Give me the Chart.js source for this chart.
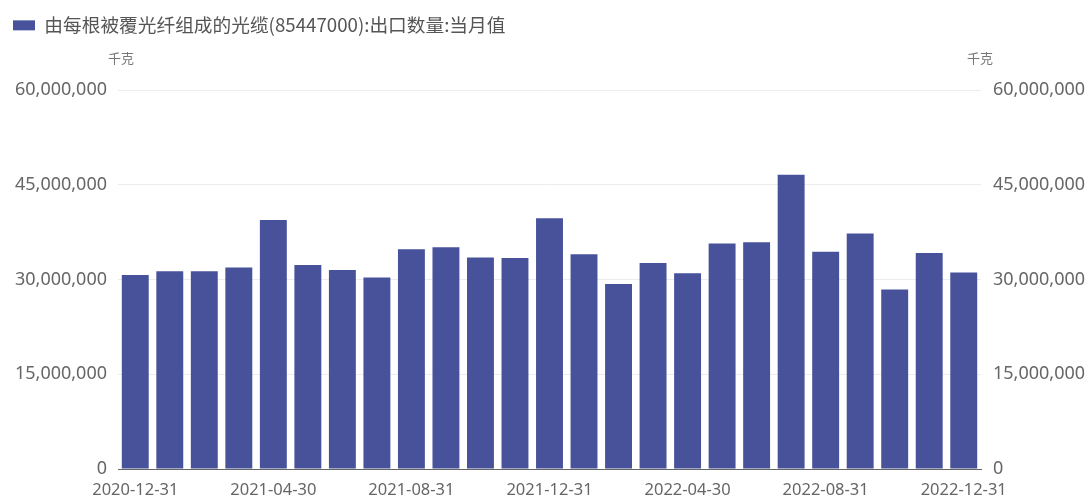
<!DOCTYPE html>
<html>
<head>
<meta charset="utf-8">
<script src="https://cdn.jsdelivr.net/npm/chart.js@4/dist/chart.umd.min.js"></script>
<style>
  html, body { margin: 0; padding: 0; background: #fff; }
  #wrap { width: 1090px; height: 501px; position: relative; }
</style>
</head>
<body>
<div id="wrap"><canvas id="c"></canvas></div>
<script>
const categories = [
  '2020-12-31','2021-01-31','2021-02-28','2021-03-31','2021-04-30','2021-05-31',
  '2021-06-30','2021-07-31','2021-08-31','2021-09-30','2021-10-31','2021-11-30',
  '2021-12-31','2022-01-31','2022-02-28','2022-03-31','2022-04-30','2022-05-31',
  '2022-06-30','2022-07-31','2022-08-31','2022-09-30','2022-10-31','2022-11-30',
  '2022-12-31'
];
const exportQty = [
  30700000, 31300000, 31300000, 31900000, 39400000, 32300000,
  31500000, 30300000, 34800000, 35100000, 33500000, 33400000,
  39700000, 34000000, 29300000, 32600000, 31000000, 35700000,
  35900000, 46600000, 34400000, 37300000, 28400000, 34200000,
  31100000
];
const seriesName = '由每根被覆光纤组成的光缆(85447000):出口数量:当月值';
const unitLabel = '千克';
const yTicks = [0, 15000000, 30000000, 45000000, 60000000];

const fmt = v => Number(v).toLocaleString('en-US');

const unitPlugin = {
  id: 'units',
  beforeInit(chart) {
    const lg = chart.legend;
    if (lg) {
      const orig = lg.fit;
      lg.fit = function() { orig.call(this); this.height = 84; };
    }
  },
  afterDraw(chart) {
    const ctx = chart.ctx;
    ctx.save();
    ctx.font = '13px "Noto Sans CJK SC"';
    ctx.fillStyle = '#777';
    ctx.textAlign = 'center';
    ctx.textBaseline = 'middle';
    ctx.fillText(unitLabel, 121, 58);
    ctx.fillText(unitLabel, 980, 58);
    ctx.restore();
  }
};

const yFont = { family: '"Noto Sans", "Open Sans", sans-serif', size: 18 };
const xFont = { family: '"Noto Sans", "Open Sans", sans-serif', size: 16.5 };

new Chart(document.getElementById('c'), {
  type: 'bar',
  data: {
    labels: categories,
    datasets: [{
      label: seriesName,
      data: exportQty,
      backgroundColor: '#48529b',
      borderWidth: 0,
      categoryPercentage: 1.0,
      barPercentage: 0.78,
      yAxisID: 'y'
    }]
  },
  options: {
    responsive: true,
    maintainAspectRatio: false,
    animation: false,
    layout: { padding: { left: 3, right: 0, top: 6, bottom: 0 } },
    plugins: {
      legend: {
        display: true,
        position: 'top',
        align: 'start',
        labels: {
          boxWidth: 22,
          boxHeight: 10,
          padding: 10,
          color: '#555',
          font: { family: '"Noto Sans CJK SC", sans-serif', size: 18.7 }
        }
      },
      tooltip: { enabled: false }
    },
    scales: {
      x: {
        afterFit: s => { s.height = 32; },
        grid: { display: false, drawTicks: false },
        border: { display: true, color: '#666', width: 1 },
        ticks: {
          autoSkip: false,
          maxRotation: 0,
          minRotation: 0,
          padding: 11,
          color: '#666',
          font: xFont,
          callback: function(val, idx) { return idx % 4 === 0 ? categories[idx] : ''; }
        }
      },
      y: {
        position: 'left',
        min: 0, max: 60000000,
        afterBuildTicks: s => { s.ticks = yTicks.map(v => ({ value: v })); },
        afterFit: s => { s.width = 115; },
        grid: { color: '#ececec', drawTicks: false },
        border: { display: false },
        ticks: { padding: 11, color: '#666', font: yFont, callback: v => fmt(v) }
      },
      y2: {
        position: 'right',
        min: 0, max: 60000000,
        afterBuildTicks: s => { s.ticks = yTicks.map(v => ({ value: v })); },
        afterFit: s => { s.width = 109; },
        grid: { display: false, drawTicks: false },
        border: { display: false },
        ticks: { padding: 12, color: '#666', font: yFont, callback: v => fmt(v) }
      }
    }
  },
  plugins: [unitPlugin]
});
</script>
</body>
</html>
